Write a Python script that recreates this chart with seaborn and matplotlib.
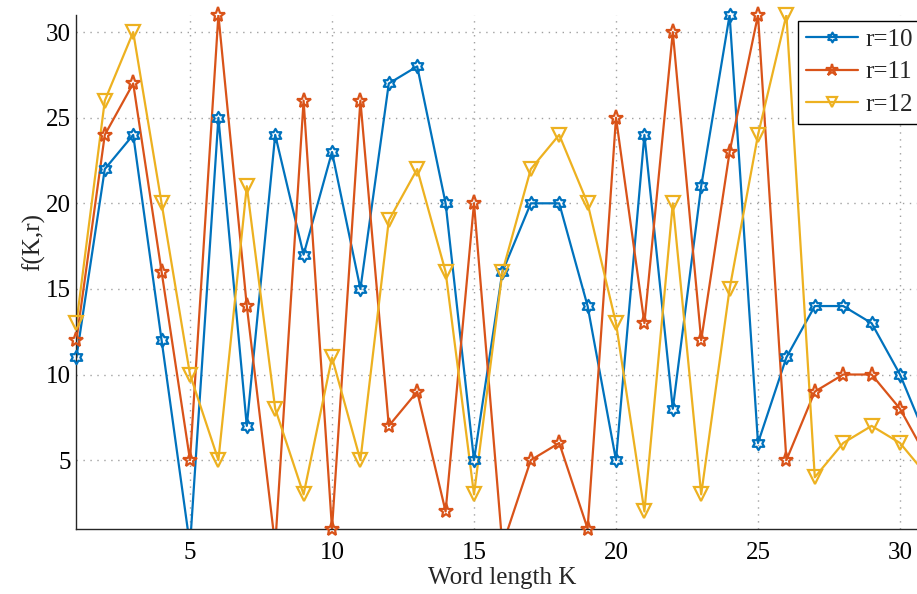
import numpy as np
import pandas as pd
import matplotlib
matplotlib.use("Agg")
import matplotlib.pyplot as plt
from matplotlib.path import Path
from matplotlib.lines import Line2D
import seaborn as sns

K = list(range(1, 32))
r10 = [11, 22, 24, 12, 0, 25, 7, 24, 17, 23, 15, 27, 28, 20, 5, 16, 20, 20, 14, 5,
       24, 8, 21, 31, 6, 11, 14, 14, 13, 10, 6]
r11 = [12, 24, 27, 16, 5, 31, 14, 0, 26, 1, 26, 7, 9, 2, 20, 0, 5, 6, 1, 25,
       13, 30, 12, 23, 31, 5, 9, 10, 10, 8, 5]
r12 = [13, 26, 30, 20, 10, 5, 21, 8, 3, 11, 5, 19, 22, 16, 3, 16, 22, 24, 20, 13,
       2, 20, 3, 15, 24, 31, 4, 6, 7, 6, 4]
labels = ["r=10", "r=11", "r=12"]
colors = ["#0072BD", "#D95319", "#EDB120"]

# hexagram marker
ang = np.deg2rad(90 + 30 * np.arange(12))
rad = np.where(np.arange(12) % 2 == 0, 1.0, 1 / np.sqrt(3))
verts = np.column_stack([rad * np.cos(ang), rad * np.sin(ang)])
verts = np.vstack([verts, verts[:1]])
hexagram = Path(verts, [Path.MOVETO] + [Path.LINETO] * 11 + [Path.CLOSEPOLY])

markers = [hexagram, "*", "v"]
msizes = [9.5, 11, 10]
leg_msizes = [7, 9, 7.5]

sns.set_style("white")
plt.rcParams["font.family"] = ["Liberation Serif", "DejaVu Serif"]

fig = plt.figure(figsize=(9.17, 5.94), dpi=100)
ax = fig.add_axes([76.4 / 917, 1 - 528.6 / 594, (928.4 - 76.4) / 917, (528.6 - 15) / 594])

YMIN, YMAX = 1, 31
LW = 1.6
handles = []
for ys, lab, col, mk, ms, lms in zip([r10, r11, r12], labels, colors, markers, msizes, leg_msizes):
    df = pd.DataFrame({"K": K, "f": ys})
    # lines (clipped to axes)
    sns.lineplot(data=df, x="K", y="f", ax=ax, color=col, linewidth=LW, legend=False)
    # markers only for points inside the limits, not clipped
    dm = df[(df["f"] >= YMIN) & (df["f"] <= YMAX)]
    sns.lineplot(data=dm, x="K", y="f", ax=ax, color=col, linestyle="", marker=mk,
                 markersize=ms, markerfacecolor="none", markeredgecolor=col,
                 markeredgewidth=1.6, legend=False, clip_on=False, zorder=3)
    handles.append(Line2D([], [], color=col, linewidth=LW, marker=mk, markersize=lms,
                          markerfacecolor="none", markeredgecolor=col, markeredgewidth=1.6))

ax.set_xlim(1, 31)
ax.set_ylim(YMIN, YMAX)
ax.set_xticks([5, 10, 15, 20, 25, 30])
ax.set_yticks([5, 10, 15, 20, 25, 30])
ax.tick_params(axis="both", direction="in", length=5, width=1, labelsize=18,
               colors="#262626")
ax.tick_params(axis="x", pad=10)
ax.tick_params(axis="y", pad=4)
ax.tick_params(axis="both", labelcolor="black")
for s in ["top", "right"]:
    ax.spines[s].set_visible(False)
for s in ["left", "bottom"]:
    ax.spines[s].set_color("#262626")
    ax.spines[s].set_linewidth(1)
ax.grid(True, linestyle=(0, (1, 4)), color="#a0a0a0", linewidth=1)
ax.set_axisbelow(True)

ax.set_xlabel("Word length K", fontsize=18, labelpad=2)
ax.set_ylabel("f(K,r)", fontsize=18)
ax.yaxis.set_label_coords(-0.037, 0.558)

leg = ax.legend(handles=handles, labels=labels, loc="upper left",
                bbox_to_anchor=(798 / 917, 1 - 21 / 594), bbox_transform=fig.transFigure,
                fontsize=18, fancybox=False, framealpha=1, edgecolor="black",
                handlelength=2.1, labelspacing=0.4, borderpad=0.3, handletextpad=0.3,
                borderaxespad=0)
leg.get_frame().set_linewidth(1)

fig.savefig("out.png", dpi=100)
